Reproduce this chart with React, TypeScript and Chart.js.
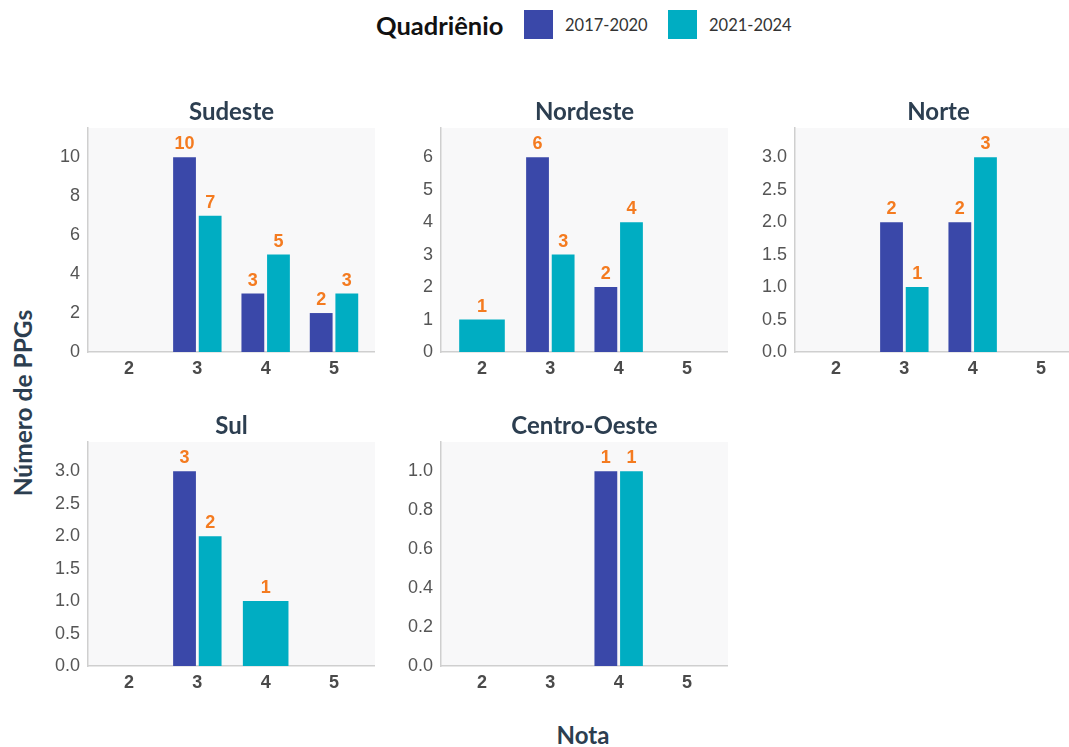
import React, { useEffect, useRef } from 'react';
import { Chart, registerables } from 'chart.js';
Chart.register(...registerables);

// ---- data ----
const categories = [2, 3, 4, 5];
const seriesNames = ['2017-2020', '2021-2024'];
const regionNames = ['Sudeste', 'Nordeste', 'Norte', 'Sul', 'Centro-Oeste'];
const sudeste2017 = [null, 10, 3, 2];
const sudeste2021 = [null, 7, 5, 3];
const nordeste2017 = [null, 6, 2, null];
const nordeste2021 = [1, 3, 4, null];
const norte2017 = [null, 2, 2, null];
const norte2021 = [null, 1, 3, null];
const sul2017 = [null, 3, null, null];
const sul2021 = [null, 2, 1, null];
const centroOeste2017 = [null, null, 1, null];
const centroOeste2021 = [null, null, 1, null];
const yTickSteps = [2, 1, 0.5, 0.5, 0.2];
const yTickDecimals = [0, 0, 1, 1, 1];
const xAxisTitle = 'Nota';
const yAxisTitle = 'Número de PPGs';
const legendTitle = 'Quadriênio';

// ---- style ----
const COLOR_A = '#3a48a9';
const COLOR_B = '#00adc2';
const ORANGE = '#f47b20';
const PANEL_BG = '#f8f8f9';
const AXIS_LINE = '#cfcfcf';
const TITLE_COLOR = '#2c3e50';
const TICK_FONT = '"Liberation Sans", Arial, sans-serif';
const LATO = 'Lato, "Open Sans", sans-serif';

const Y_AXIS_W = 50;
const TITLE_H = 30;
const X_AXIS_H = 30;
const PLOT_W = 287;
const PLOT_H = 224;

const panelPos = [
  { left: 88, top: 128 },
  { left: 441, top: 128 },
  { left: 795, top: 128 },
  { left: 88, top: 442 },
  { left: 441, top: 442 },
];

const panelData = [
  [sudeste2017, sudeste2021],
  [nordeste2017, nordeste2021],
  [norte2017, norte2021],
  [sul2017, sul2021],
  [centroOeste2017, centroOeste2021],
];

const bgPlugin = {
  id: 'panelBg',
  beforeDraw(chart: any) {
    const { ctx, chartArea } = chart;
    ctx.save();
    ctx.fillStyle = PANEL_BG;
    ctx.fillRect(chartArea.left, chartArea.top, chartArea.right - chartArea.left, chartArea.bottom - chartArea.top);
    ctx.restore();
  },
};

const panelTitlePlugin = {
  id: 'panelTitle',
  afterDraw(chart: any, _args: any, opts: any) {
    const { ctx, chartArea } = chart;
    ctx.save();
    ctx.font = `bold 24px ${LATO}`;
    ctx.fillStyle = TITLE_COLOR;
    ctx.textAlign = 'center';
    ctx.textBaseline = 'alphabetic';
    ctx.fillText(opts.text, (chartArea.left + chartArea.right) / 2, chartArea.top - 8);
    ctx.restore();
  },
};

const labelPlugin = {
  id: 'barLabels',
  afterDatasetsDraw(chart: any) {
    const { ctx } = chart;
    ctx.save();
    ctx.font = `bold 18px ${TICK_FONT}`;
    ctx.fillStyle = ORANGE;
    ctx.textAlign = 'center';
    ctx.textBaseline = 'bottom';
    chart.data.datasets.forEach((ds: any, di: number) => {
      const meta = chart.getDatasetMeta(di);
      meta.data.forEach((el: any, i: number) => {
        const v = ds.data[i].y;
        if (v === null || v === undefined) return;
        ctx.fillText(String(v), el.x, el.y - 4);
      });
    });
    ctx.restore();
  },
};

function Panel({ idx }: { idx: number }) {
  const ref = useRef<HTMLCanvasElement>(null);
  const pos = panelPos[idx];
  const w = Y_AXIS_W + PLOT_W;
  const h = TITLE_H + PLOT_H + X_AXIS_H;
  useEffect(() => {
    const [a, b] = panelData[idx];
    const vals = [...a, ...b].filter((v) => v !== null) as number[];
    const maxV = Math.max(...vals) * 1.15;
    const dec = yTickDecimals[idx];
    const chart = new Chart(ref.current as HTMLCanvasElement, {
      type: 'bar',
      data: {
        datasets: [
          {
            label: seriesNames[0],
            data: categories.map((c, i) => ({ x: c, y: a[i] })),
            backgroundColor: COLOR_A,
            skipNull: true,
            categoryPercentage: 0.75,
            barPercentage: 0.89,
          } as any,
          {
            label: seriesNames[1],
            data: categories.map((c, i) => ({ x: c, y: b[i] })),
            backgroundColor: COLOR_B,
            skipNull: true,
            categoryPercentage: 0.75,
            barPercentage: 0.89,
          } as any,
        ],
      },
      options: {
        responsive: false,
        animation: false,
        layout: { padding: { top: TITLE_H, left: 0, right: 0, bottom: 0 } },
        plugins: {
          legend: { display: false },
          tooltip: { enabled: false },
          title: { display: false },
          panelTitle: { text: regionNames[idx] },
        },
        scales: {
          x: {
            type: 'linear',
            min: 1.4,
            max: 5.6,
            offset: false,
            grid: { display: false, drawTicks: false },
            border: { display: true, color: AXIS_LINE, width: 1.5 },
            ticks: {
              stepSize: 1,
              includeBounds: false,
              padding: 6,
              color: '#4a4a4a',
              font: { family: TICK_FONT, size: 18, weight: 'bold' },
              callback: (v: any) => String(v),
            },
            afterFit: (s: any) => {
              s.height = X_AXIS_H;
            },
          },
          y: {
            min: 0,
            max: maxV,
            grid: { display: false, drawTicks: false },
            border: { display: true, color: AXIS_LINE, width: 1.5 },
            ticks: {
              stepSize: yTickSteps[idx],
              includeBounds: false,
              padding: 8,
              color: '#555555',
              font: { family: TICK_FONT, size: 18 },
              callback: (v: any) => Number(v).toFixed(dec),
            },
            afterFit: (s: any) => {
              s.width = Y_AXIS_W;
            },
          },
        },
      } as any,
      plugins: [bgPlugin, labelPlugin, panelTitlePlugin],
    });
    return () => chart.destroy();
  }, [idx]);
  return (
    <canvas
      ref={ref}
      width={w}
      height={h}
      style={{
        position: 'absolute',
        left: pos.left - Y_AXIS_W,
        top: pos.top - TITLE_H,
        width: w,
        height: h,
      }}
    />
  );
}

export default function App() {
  return (
    <div
      style={{
        position: 'fixed',
        left: 0,
        top: 0,
        width: 1069,
        height: 747,
        overflow: 'hidden',
        background: '#ffffff',
      }}
    >
      {/* legend */}
      <div
        style={{
          position: 'absolute',
          left: 376,
          top: 25,
          transform: 'translateY(-50%)',
          fontFamily: LATO,
          fontWeight: 'bold',
          fontSize: 25.5,
          color: '#111',
          whiteSpace: 'nowrap',
        }}
      >
        {legendTitle}
      </div>
      <div style={{ position: 'absolute', left: 524, top: 10, width: 29, height: 29, background: COLOR_A }} />
      <div
        style={{
          position: 'absolute',
          left: 565,
          top: 25,
          transform: 'translateY(-50%)',
          fontFamily: LATO,
          fontSize: 16.5,
          color: '#333',
          whiteSpace: 'nowrap',
        }}
      >
        {seriesNames[0]}
      </div>
      <div style={{ position: 'absolute', left: 668, top: 10, width: 29, height: 29, background: COLOR_B }} />
      <div
        style={{
          position: 'absolute',
          left: 709,
          top: 25,
          transform: 'translateY(-50%)',
          fontFamily: LATO,
          fontSize: 16.5,
          color: '#333',
          whiteSpace: 'nowrap',
        }}
      >
        {seriesNames[1]}
      </div>

      {panelPos.map((_, i) => (
        <Panel key={i} idx={i} />
      ))}

      {/* axis titles */}
      <div
        style={{
          position: 'absolute',
          left: 22,
          top: 403,
          transform: 'translate(-50%, -50%) rotate(-90deg)',
          fontFamily: LATO,
          fontWeight: 'bold',
          fontSize: 24.5,
          color: TITLE_COLOR,
          whiteSpace: 'nowrap',
        }}
      >
        {yAxisTitle}
      </div>
      <div
        style={{
          position: 'absolute',
          left: 583,
          top: 734,
          transform: 'translate(-50%, -50%)',
          fontFamily: LATO,
          fontWeight: 'bold',
          fontSize: 24,
          color: TITLE_COLOR,
          whiteSpace: 'nowrap',
        }}
      >
        {xAxisTitle}
      </div>
    </div>
  );
}
